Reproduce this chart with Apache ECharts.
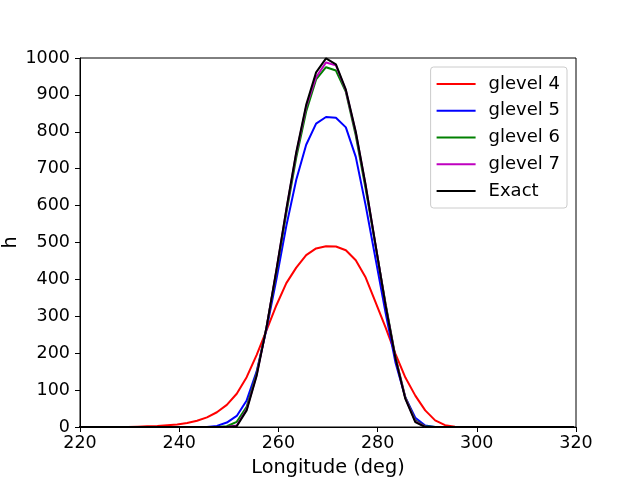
<!DOCTYPE html>
<html>
<head>
<meta charset="utf-8">
<script src="https://cdn.jsdelivr.net/npm/echarts@6/dist/echarts.min.js"></script>
<style>
  html, body { margin: 0; padding: 0; background: #fff; }
  #chart { width: 640px; height: 480px; }
</style>
</head>
<body>
<div id="chart"></div>
<script>
// longitude sample points (deg)
const lon = [
  219.6, 221.6, 223.6, 225.6, 227.6, 229.6, 231.6, 233.6, 235.6, 237.6,
  239.6, 241.6, 243.6, 245.6, 247.6, 249.6, 251.6, 253.6, 255.6, 257.6,
  259.6, 261.6, 263.6, 265.6, 267.6, 269.6, 271.6, 273.6, 275.6, 277.6,
  279.6, 281.6, 283.6, 285.6, 287.6, 289.6, 291.6, 293.6, 295.6, 297.6,
  299.6, 301.6, 303.6, 305.6, 307.6, 309.6, 311.6, 313.6, 315.6, 317.6,
  319.6
]

const glevel4 = [
  0, 0, 0, 0, 0, 0, 1, 2, 3, 5,
  7, 11, 17, 26, 40, 60, 90, 135, 195, 262,
  330, 390, 432, 466, 484, 490, 489, 479, 452, 405,
  338, 270, 198, 134, 85, 45, 18, 5, 1, 0,
  0, 0, 0, 0, 0, 0, 0, 0, 0, 0,
  0
]

const glevel5 = [
  0, 0, 0, 0, 0, 0, 0, 0, 0, 0,
  0, 0, 0, 0, 3, 12, 30, 72, 150, 265,
  400, 545, 670, 765, 822, 840, 838, 812, 732, 600,
  455, 310, 175, 80, 25, 4, 0, 0, 0, 0,
  0, 0, 0, 0, 0, 0, 0, 0, 0, 0,
  0
]

const glevel6 = [
  0, 0, 0, 0, 0, 0, 0, 0, 0, 0,
  0, 0, 0, 0, 0, 2, 14, 55, 145, 270,
  420, 580, 730, 855, 942, 975, 966, 908, 790, 645,
  490, 335, 190, 80, 18, 2, 0, 0, 0, 0,
  0, 0, 0, 0, 0, 0, 0, 0, 0, 0,
  0
]

const glevel7 = [
  0, 0, 0, 0, 0, 0, 0, 0, 0, 0,
  0, 0, 0, 0, 0, 0, 4, 48, 140, 270,
  425, 588, 742, 868, 948, 988, 980, 912, 798, 654,
  492, 331, 187, 78, 15, 1, 0, 0, 0, 0,
  0, 0, 0, 0, 0, 0, 0, 0, 0, 0,
  0
]

const exact = [
  0, 0, 0, 0, 0, 0, 0, 0, 0, 0,
  0, 0, 0, 0, 0, 0, 2, 45, 138, 270,
  426, 590, 745, 873, 961, 999, 983, 914, 800, 655,
  492, 330, 186, 76, 13, 0, 0, 0, 0, 0,
  0, 0, 0, 0, 0, 0, 0, 0, 0, 0,
  0
]

const seriesDefs = [
  { name: "glevel 4", values: glevel4, color: "#ff0000" },
  { name: "glevel 5", values: glevel5, color: "#0000ff" },
  { name: "glevel 6", values: glevel6, color: "#008000" },
  { name: "glevel 7", values: glevel7, color: "#bf00bf" },
  { name: "Exact", values: exact, color: "#000000" }
]

const font = "DejaVu Sans"

const chart = echarts.init(document.getElementById("chart"), null, { renderer: "canvas" })

chart.setOption({
  animation: false,
  backgroundColor: "#fff",
  textStyle: { fontFamily: font },
  grid: {
    left: 80, top: 58, width: 496, height: 369,
    containLabel: false, outerBoundsMode: "none",
    show: true, borderColor: "#000", borderWidth: 1, backgroundColor: "transparent"
  },
  legend: {
    orient: "vertical",
    right: 73, top: 67,
    icon: "rect",
    itemWidth: 39, itemHeight: 2,
    itemGap: 6.75,
    padding: [7, 7, 7, 6],
    borderColor: "#cccccc", borderWidth: 1, borderRadius: 3,
    backgroundColor: "#fff",
    textStyle: { fontFamily: font, fontSize: 18, color: "#000", lineHeight: 20, padding: [0, 0, 0, 8] },
    data: seriesDefs.map(s => s.name)
  },
  xAxis: {
    type: "value", min: 220, max: 320, interval: 20,
    name: "Longitude (deg)", nameLocation: "middle", nameGap: 31,
    nameMoveOverlap: false,
    nameTextStyle: { fontFamily: font, fontSize: 19.3, color: "#000" },
    axisLine: { show: true, onZero: false, lineStyle: { color: "#000", width: 1 } },
    axisTick: { show: true, inside: false, length: 5, lineStyle: { color: "#000" } },
    axisLabel: { fontFamily: font, fontSize: 17.5, color: "#000", margin: 7, formatter: v => String(v) },
    splitLine: { show: false }
  },
  yAxis: {
    type: "value", min: 0, max: 1000, interval: 100,
    name: "h", nameLocation: "middle", nameGap: 60,
    nameMoveOverlap: false,
    nameTextStyle: { fontFamily: font, fontSize: 19.3, color: "#000" },
    axisLine: { show: true, lineStyle: { color: "#000", width: 1 } },
    axisTick: { show: true, inside: false, length: 5, lineStyle: { color: "#000" } },
    axisLabel: { fontFamily: font, fontSize: 17.5, color: "#000", margin: 10, formatter: v => String(v) },
    splitLine: { show: false }
  },
  series: seriesDefs.map(s => ({
    name: s.name,
    type: "line",
    symbol: "none",
    showSymbol: false,
    color: s.color,
    lineStyle: { color: s.color, width: 2 },
    data: lon.map((x, i) => [x, s.values[i]])
  }))
})

window.addEventListener("resize", () => chart.resize())
</script>
</body>
</html>
